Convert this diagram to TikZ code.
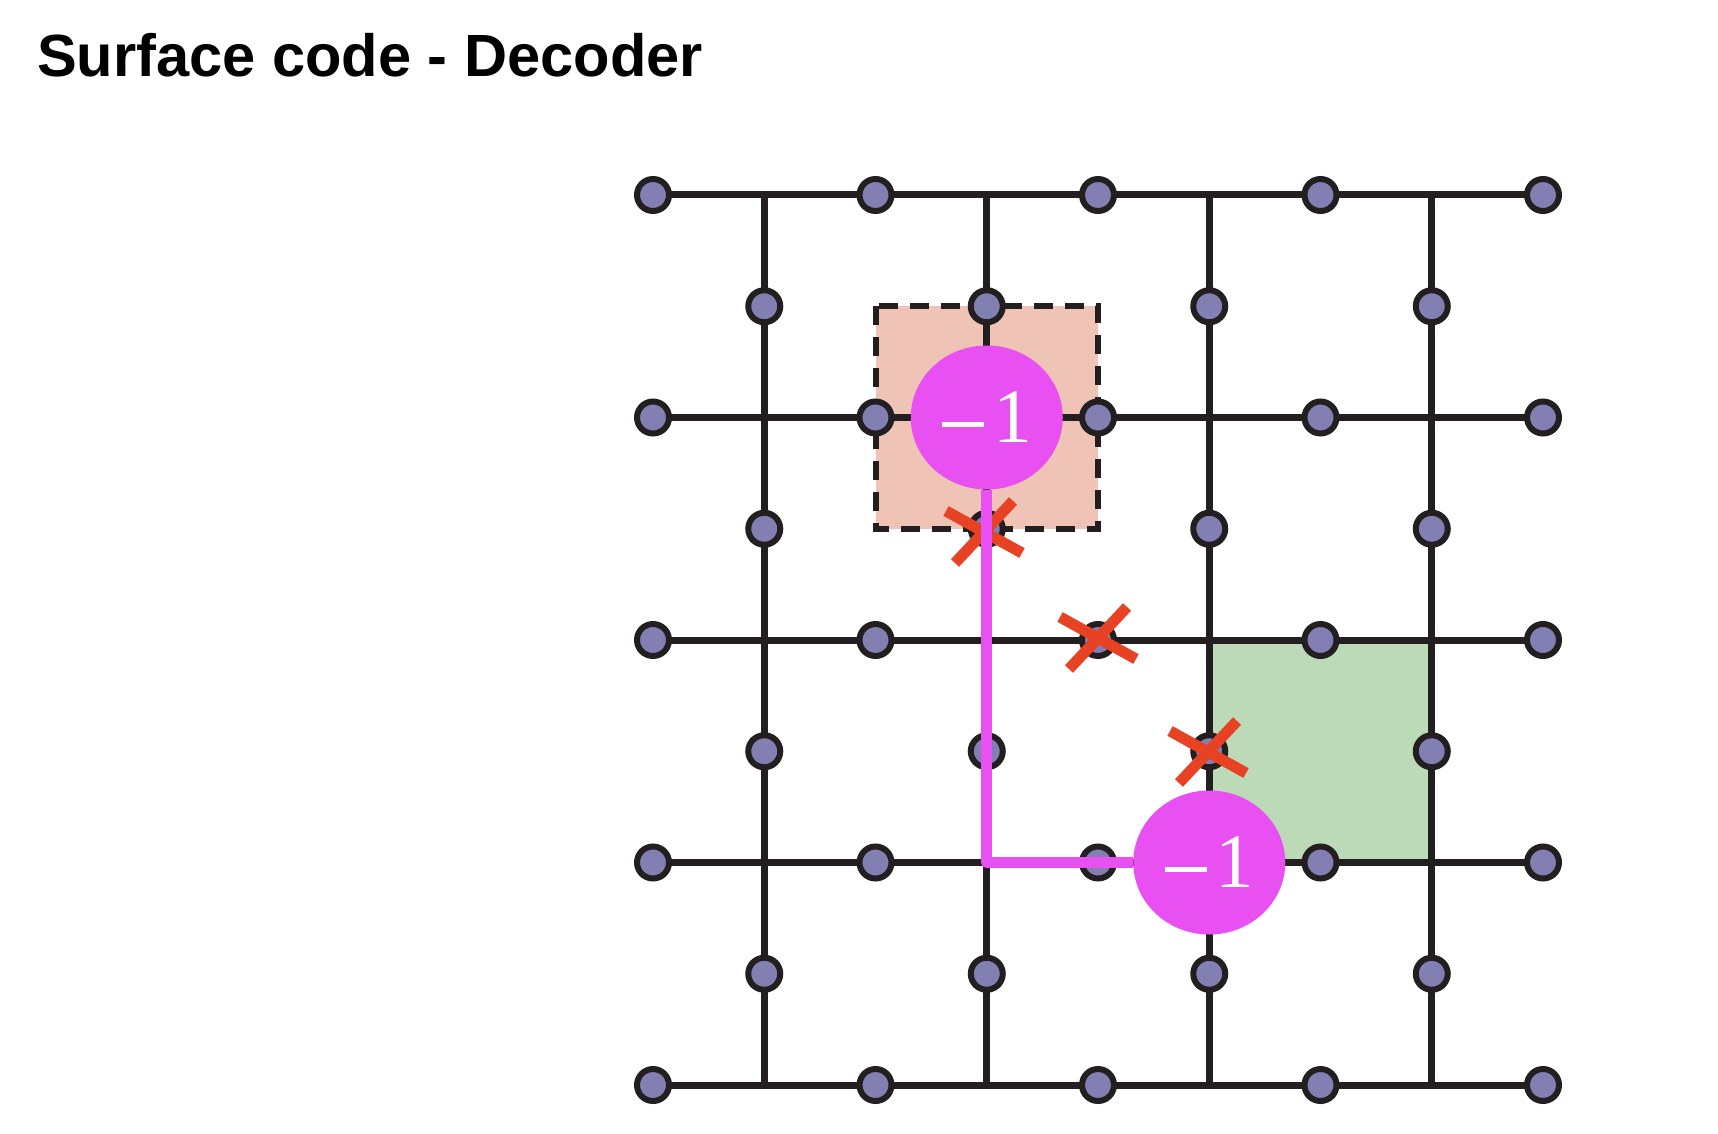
\documentclass[tikz,border=0pt]{standalone}
\usepackage{fontspec}
\setmainfont{Liberation Serif}
\newfontfamily\titlefont{Liberation Sans}
\usetikzlibrary{shapes.geometric}
\definecolor{gridcol}{RGB}{35,31,32}
\definecolor{qubitfill}{RGB}{130,127,178}
\definecolor{pinkfill}{RGB}{240,195,183}
\definecolor{greenfill}{RGB}{189,218,184}
\definecolor{synd}{RGB}{232,80,242}
\definecolor{errred}{RGB}{230,66,35}
\pgfdeclarelayer{bg}
\pgfdeclarelayer{fg}
\pgfsetlayers{bg,main,fg}
\newcommand{\syndtext}{\rule[16pt]{42pt}{4.5pt}\hspace{9pt}1}
\tikzset{
  gridline/.style={draw=gridcol, line width=7pt},
  qubit/.style={circle, draw=gridcol, line width=6pt, fill=qubitfill, minimum size=32pt, inner sep=0pt},
  dashbox/.style={draw=gridcol, line width=6pt, dash pattern=on 19pt off 12pt},
  syndrome/.style={ellipse, fill=synd, minimum width=152pt, minimum height=144pt, inner sep=0pt,
    text=white, font=\fontsize{77}{80}\selectfont},
  pathline/.style={draw=synd, line width=11pt, line join=round},
  crossline/.style={draw=errred, line width=11pt},
  errx/.pic={\draw[crossline] (-38,-21) -- (38,21); \draw[crossline] (-29,31) -- (29,-31);}
}
\begin{document}
\begin{tikzpicture}[x=1pt,y=-1pt]
\begin{pgfonlayer}{bg}
\fill[white] (0,0) rectangle (1718,1134);
\end{pgfonlayer}
\useasboundingbox (0,0) rectangle (1718,1134);
\node[anchor=base west, inner sep=0pt, font=\titlefont\bfseries\fontsize{59.6}{70}\selectfont] (title) at (37,77) {Surface code - Decoder};
\foreach \i in {0,...,8} {
  \foreach \j in {0,...,8} {
    \coordinate (g-\i-\j) at ({653+111.25*\i},{195+111.25*\j});
  }
}
% syndrome circles on the top layer
\begin{pgfonlayer}{fg}
\node[syndrome] (s1) at (g-3-2) {\syndtext};
\node[syndrome] (s2) at (g-5-6) {\syndtext};
\end{pgfonlayer}
% plaquettes
\begin{pgfonlayer}{bg}
\fill[pinkfill] (g-2-1) rectangle (g-4-3);
\fill[greenfill] (g-5-4) rectangle (g-7-6);
\end{pgfonlayer}
% lattice lines
\foreach \j in {0,2,4,6,8} \draw[gridline] (g-0-\j) -- (g-8-\j);
\foreach \i in {1,3,5,7} \draw[gridline] (g-\i-0) -- (g-\i-8);
\draw[dashbox] (g-2-1) rectangle (g-4-3);
% qubits
\foreach \i in {0,2,4,6,8} {
  \foreach \j in {0,2,4,6,8} {
    \node[qubit] (q-\i-\j) at (g-\i-\j) {};
  }
}
\foreach \i in {1,3,5,7} {
  \foreach \j in {1,3,5,7} {
    \node[qubit] (q-\i-\j) at (g-\i-\j) {};
  }
}
% errors
\coordinate (e1) at (984,532);
\coordinate (e2) at (1098,638);
\coordinate (e3) at (1208,752);
\pic at (e1) {errx};
\pic at (e2) {errx};
\pic at (e3) {errx};
% matching path
\draw[pathline] (s1) -- (g-3-6) -- (s2);
\end{tikzpicture}
\end{document}
